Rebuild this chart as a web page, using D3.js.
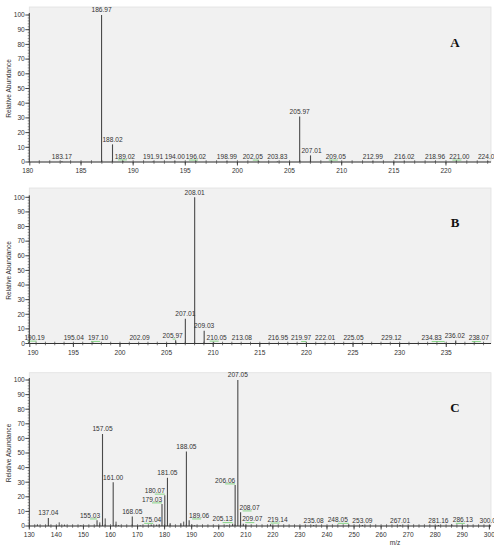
<!DOCTYPE html>
<html><head><meta charset="utf-8">
<script src="https://cdn.jsdelivr.net/npm/d3@7"></script>
<style>body{margin:0;background:#fff}svg{display:block;font-family:"Liberation Sans",Arial,sans-serif}</style>
</head><body>
<svg id="c" width="494" height="550"></svg>
<script>
// ---------- DATA ----------
// Panel A
const mzA  = [183.17,186.97,188.02,189.02,191.91,194.00,196.02,198.99,202.05,203.83,205.97,207.01,209.05,212.99,216.02,218.96,221.00,224.03];
const abA  = [0.5,100,12,0.6,0.3,0.3,0.5,0.3,0.5,0.3,31,4.5,0.5,0.3,0.3,0.3,0.5,0.3];
const greenA = [189.02,196.02,202.05,209.05,221.00];
const labelShiftA = [0,0,0,2,0,0,0,0,-6,0,0,1,4,0,0,0,3,0];
// Panel B
const mzB  = [190.19,195.04,197.10,202.09,205.97,207.01,208.01,209.03,210.05,213.08,216.95,219.97,222.01,225.05,229.12,234.83,236.02,238.07];
const abB  = [0.8,0.4,0.6,0.3,2.2,17,100,8.7,0.8,0.4,0.3,0.5,0.3,0.3,0.3,0.5,2.0,0.5];
const greenB = [190.19,197.10,205.97,210.05,219.97,234.83,238.07];
const labelShiftB = [6,0,5,0,-3,0,0,0,3,0,0,-5,0,0,0,-13,-1,4];
// Panel C (labelled peaks)
const mzC  = [137.04,155.03,157.05,161.00,168.05,175.04,179.03,180.07,181.05,188.05,189.06,205.13,206.06,207.05,208.07,209.07,219.14,235.08,248.05,253.09,267.01,281.16,286.13,300.08];
const abC  = [5.5,4,63,30,6.5,1,15,21,33,51,4,1.5,28,100,9.5,1.5,1.2,0.6,1,0.6,0.6,0.6,1,0.6];
const greenC = [155.03,175.04,179.03,180.07,189.06,205.13,206.06,208.07,209.07,219.14,248.05,286.13];
const labelShiftC = [0,-7,0,0,0,0,-10,-10,0,0,10,-10,-10,0,9,9,7,0,-11,0,0,0,11,0];
// Panel C (unlabelled minor peaks)
const mzCminor = [133.0,141.05,143.0,149.05,156.05,158.05,162.05,163.0,171.0,177.05,178.0,182.05,186.0,187.05,190.05,191.0,203.05,210.05];
const abCminor = [1.2,2.5,1.0,0.6,2.5,5.2,3.0,0.6,0.5,1.0,1.0,2.0,2.0,3.0,1.0,0.5,0.5,1.0];
// Tick settings
const yTicks = [0,10,20,30,40,50,60,70,80,90,100];

// ---------- LAYOUT ----------
const svg = d3.select("#c");
const X0 = 29.3, X1 = 491;
const panels = [
  {letter:"A", dom:[180.04,224.32], major:5, minor:1, rectTop:7,   y0:162,   y100:15,    mz:mzA, ab:abA, green:greenA, shift:labelShiftA, letterY:47,  xlabel:false, startLabel:180, startDx:-1.5},
  {letter:"B", dom:[190.27,239.8], major:5, minor:1, rectTop:188, y0:343.5, y100:197.3, mz:mzB, ab:abB, green:greenB, shift:labelShiftB, letterY:227, xlabel:false, startLabel:190, startDx:3.7},
  {letter:"C", dom:[130,300.6], major:10, minor:2, rectTop:372.7, y0:526, y100:380, mz:mzC, ab:abC, green:greenC, shift:labelShiftC, letterY:412, xlabel:true,
   minorMz:mzCminor, minorAb:abCminor}
];

panels.forEach(p => {
  const x = d3.scaleLinear().domain(p.dom).range([X0, X1]);
  const y = d3.scaleLinear().domain([0,100]).range([p.y0, p.y100]);
  const g = svg.append("g");

  g.append("rect").attr("x", X0).attr("y", p.rectTop).attr("width", X1 - X0).attr("height", p.y0 - p.rectTop)
    .attr("fill", "#f1f1f1").attr("stroke", "#e2e2e2").attr("stroke-width", 0.8);

  // minor peaks
  if (p.minorMz) {
    g.selectAll("line.mp").data(p.minorMz).join("line")
      .attr("x1", d => x(d)).attr("x2", d => x(d))
      .attr("y1", y(0)).attr("y2", (d,i) => y(p.minorAb[i]))
      .attr("stroke", "#555").attr("stroke-width", 1);
  }
  // peaks
  g.selectAll("line.pk").data(p.mz).join("line")
    .attr("x1", d => x(d)).attr("x2", d => x(d))
    .attr("y1", y(0)).attr("y2", (d,i) => y(p.ab[i]))
    .attr("stroke", "#4a4a4a").attr("stroke-width", 1.1);

  // green markers
  p.mz.forEach((d,i) => {
    if (p.green.includes(d)) {
      const s = p.shift[i];
      const cx = x(d) + s;
      const yy = y(p.ab[i]) - 1.2;
      g.append("line").attr("x1", s < 0 ? cx : cx - 7).attr("x2", s < 0 ? x(d) : cx + 2)
        .attr("y1", yy).attr("y2", yy).attr("stroke", "#86d486").attr("stroke-width", 1);
    }
  });

  // peak labels
  g.selectAll("text.pl").data(p.mz).join("text")
    .attr("x", (d,i) => x(d) + p.shift[i])
    .attr("y", (d,i) => y(p.ab[i]) - 2.6)
    .attr("text-anchor", "middle").attr("font-size", 6.6).attr("fill", "#333")
    .text(d => d.toFixed(2));

  // x axis
  const [a,b] = p.dom;
  g.append("line").attr("x1", X0).attr("x2", X1).attr("y1", p.y0).attr("y2", p.y0).attr("stroke", "#333").attr("stroke-width", 1);
  const minorT = d3.range(Math.ceil(a/p.minor)*p.minor, b + 1e-9, p.minor);
  g.selectAll("line.xm").data(minorT).join("line")
    .attr("x1", d => x(d)).attr("x2", d => x(d)).attr("y1", p.y0 - 1.8).attr("y2", p.y0 + 1.8)
    .attr("stroke", "#444").attr("stroke-width", 0.7);
  const majorT = d3.range(Math.ceil(a/p.major)*p.major, b + 1e-9, p.major);
  g.selectAll("line.xM").data(majorT).join("line")
    .attr("x1", d => x(d)).attr("x2", d => x(d)).attr("y1", p.y0).attr("y2", p.y0 + 3.5)
    .attr("stroke", "#333").attr("stroke-width", 0.9);
  g.selectAll("text.xt").data(majorT).join("text")
    .attr("x", d => x(d)).attr("y", p.y0 + 11)
    .attr("text-anchor", "middle").attr("font-size", 6.6).attr("fill", "#333")
    .text(d => d);
  if (p.startLabel !== undefined) {
    g.append("line").attr("x1", X0 + 0.5).attr("x2", X0 + 0.5).attr("y1", p.y0).attr("y2", p.y0 + 3.5)
      .attr("stroke", "#333").attr("stroke-width", 0.9);
    g.append("text").attr("x", X0 + p.startDx).attr("y", p.y0 + 11)
      .attr("text-anchor", "middle").attr("font-size", 6.6).attr("fill", "#333")
      .text(p.startLabel);
  }

  // y axis
  g.append("line").attr("x1", X0).attr("x2", X0).attr("y1", y(100) - 2).attr("y2", p.y0).attr("stroke", "#333").attr("stroke-width", 1);
  g.selectAll("line.ym").data(d3.range(0, 101, 2)).join("line")
    .attr("x1", X0 - 1.6).attr("x2", X0).attr("y1", d => y(d)).attr("y2", d => y(d))
    .attr("stroke", "#555").attr("stroke-width", 0.6);
  g.selectAll("line.yM").data(yTicks).join("line")
    .attr("x1", X0 - 4).attr("x2", X0).attr("y1", d => y(d)).attr("y2", d => y(d))
    .attr("stroke", "#333").attr("stroke-width", 0.9);
  g.selectAll("text.yt").data(yTicks).join("text")
    .attr("x", X0 - 4.5).attr("y", d => y(d) + 2.3)
    .attr("text-anchor", "end").attr("font-size", 6.6).attr("fill", "#333")
    .text(d => d);

  g.append("text")
    .attr("transform", `translate(11,${(p.y0 + p.y100)/2}) rotate(-90)`)
    .attr("text-anchor", "middle").attr("font-size", 6.6).attr("fill", "#333")
    .text("Relative Abundance");

  g.append("text").attr("x", 455).attr("y", p.letterY)
    .attr("text-anchor", "middle").attr("font-family", "'Liberation Serif','Times New Roman',serif")
    .attr("font-weight", "bold").attr("font-size", 13).attr("fill", "#111")
    .text(p.letter);

  if (p.xlabel) {
    g.append("text").attr("x", 395).attr("y", 545).attr("text-anchor", "middle")
      .attr("font-size", 6.6).attr("fill", "#333").text("m/z");
  }
});
</script>
</body></html>
